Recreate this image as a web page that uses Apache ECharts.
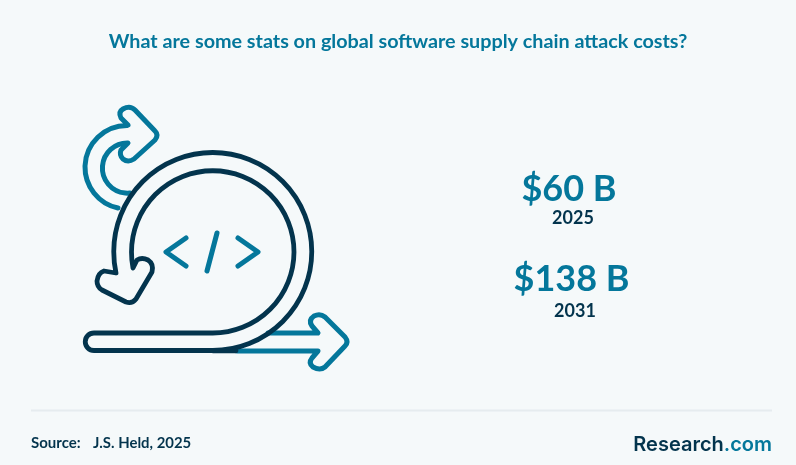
<!DOCTYPE html>
<html>
<head>
<meta charset="utf-8">
<style>
    html, body { margin: 0; padding: 0; background: #f5f9fa; }
    #chart { width: 796px; height: 465px; }
</style>
<script src="https://cdn.jsdelivr.net/npm/echarts@6/dist/echarts.min.js"></script>
</head>
<body>
<div id="chart"></div>
<script>
    var titleText = 'What are some stats on global software supply chain attack costs?';
    var statValues = ['$60 B', '$138 B'];
    var statYears = ['2025', '2031'];
    var sourceLabel = 'Source:';
    var sourceText = 'J.S. Held, 2025';

    var BLUE = '#04779b';
    var DARK = '#03344d';

    // 图标路径
    var iconBluePaths = [
        // 上方回转箭头
        'M118 208 A42 42 0 0 1 85 166 A42 42 0 0 1 127 125.5 L128 125 L121 118 Q118 112 123 109 Q130 105 135 110 L155 131 Q159 135 155 140 L134 159 Q128 163 123 159 Q119 155 121 150 L128 143 A25 25 0 0 0 102.5 166 A25 25 0 0 0 130 193',
        // 下方直箭头
        'M237 351 H318 L312 358 Q308 363 313 367 Q320 371 325 367 L345 346 Q349 342 345 337 L325 317 Q320 313 314 316 Q308 320 312 326 L318 333 H268',
        // 代码符号
        'M186 238 L166 252 L186 266',
        'M217 233 L207 271',
        'M238 238 L258 252 L238 266'
    ];
    var iconDarkPath = 'M212.75 333 H94 A8.75 8.75 0 0 0 94 350.5 H212.75 '
        + 'A99 99 0 0 0 311.75 251.5 A99 99 0 0 0 113.75 251.5 A99 99 0 0 0 116 273 '
        + 'L104 271 Q98 273 97 281 Q97 287 102 290 L126 302 Q132 304 136 299 L152 272 Q154 264 148 260 Q142 257 137 260 '
        + 'L133 268 A81.25 81.25 0 0 1 131.5 252 A81.25 81.25 0 0 1 294 252 A81.25 81.25 0 0 1 212.75 333 Z '
        // 底部重叠处
        + 'M212.75 350.8 H236';

    function pathItem(d, color, width, z) {
        return {
            type: 'path',
            z2: z,
            shape: { pathData: d },
            style: { fill: 'none', stroke: color, lineWidth: width, lineJoin: 'round', lineCap: 'round' }
        };
    }

    function textItem(str, x, y, size, color, align) {
        return {
            type: 'text',
            z: 10,
            x: x,
            y: y,
            style: {
                text: str,
                fill: color,
                font: 'bold ' + size + 'px Lato',
                align: align || 'center',
                verticalAlign: 'middle'
            }
        };
    }

    function renderIcon() {
        var children = [];
        iconBluePaths.forEach(function(d) {
            children.push(pathItem(d, BLUE, 5, 1));
        });
        children.push(pathItem(iconDarkPath, DARK, 4.8, 2));
        return { type: 'group', children: children };
    }

    var elements = [];
    elements.push(textItem(titleText, 398, 41.5, 19.75, BLUE));

    var statX = [569, 571.5];
    var statY = [189, 279];
    var yearX = [573, 575];
    var yearY = [218, 311];
    statValues.forEach(function(v, i) {
        elements.push(textItem(v, statX[i], statY[i], 36, BLUE));
        elements.push(textItem(statYears[i], yearX[i], yearY[i], 18, DARK));
    });

    elements.push({
        type: 'line',
        z: 1,
        shape: { x1: 31, y1: 410.5, x2: 772, y2: 410.5 },
        style: { stroke: '#e6ecef', lineWidth: 2 }
    });
    elements.push(textItem(sourceLabel, 31, 443, 15, DARK, 'left'));
    elements.push(textItem(sourceText, 93, 443, 14.9, DARK, 'left'));

    elements.push({
        type: 'text',
        z: 10,
        x: 772,
        y: 445,
        style: {
            text: '{a|Research}{b|.com}',
            align: 'right',
            verticalAlign: 'middle',
            rich: {
                a: { fill: DARK, font: '600 20px Inter' },
                b: { fill: BLUE, font: '600 20px Inter' }
            }
        }
    });

    var chart = echarts.init(document.getElementById('chart'), null, { renderer: 'canvas' });
    chart.setOption({
        backgroundColor: '#f5f9fa',
        animation: false,
        graphic: { elements: elements },
        series: [
            {
                type: 'custom',
                coordinateSystem: 'none',
                silent: true,
                data: [0],
                renderItem: renderIcon
            }
        ]
    });
</script>
</body>
</html>
